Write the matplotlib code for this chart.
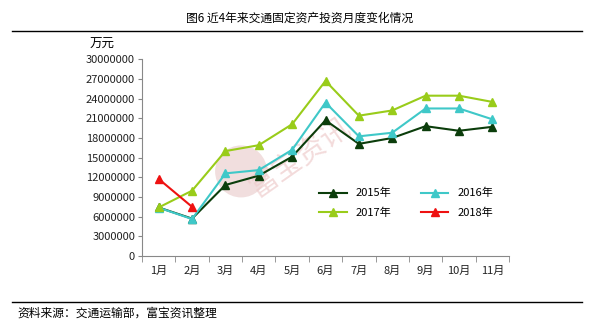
import matplotlib.pyplot as plt
import numpy as np
from matplotlib.lines import Line2D
from matplotlib.patches import Ellipse

plt.rcParams['font.family'] = ['Noto Sans CJK SC', 'DejaVu Sans']

# 月份与各年度数据(万元)
months = ['1月', '2月', '3月', '4月', '5月', '6月', '7月', '8月', '9月', '10月', '11月']
y2015 = [7400000, 5700000, 10830000, 12250000, 15150000, 20700000, 17100000, 18000000, 19800000, 19100000, 19700000]
y2016 = [7370000, 5640000, 12600000, 13100000, 16200000, 23400000, 18250000, 18800000, 22500000, 22500000, 20850000]
y2017 = [7400000, 9960000, 16000000, 16900000, 20100000, 26700000, 21400000, 22200000, 24450000, 24450000, 23500000]
y2018 = [11750000, 7500000]
series_names = ['2015年', '2016年', '2017年', '2018年']
colors = ['#0b3d0b', '#3fc8c8', '#99cc1a', '#ee1111']

fig = plt.figure(figsize=(5.94, 3.32), dpi=100)
W, H = 594, 332

# 标题与上下分隔线
fig.text(300 / W, 1 - 18 / H, '图6 近4年来交通固定资产投资月度变化情况', ha='center', va='center',
         fontsize=8.5, color='black')
fig.add_artist(Line2D([12 / W, 582 / W], [1 - 31 / H, 1 - 31 / H], color='black', lw=1))
fig.add_artist(Line2D([12 / W, 582 / W], [1 - 302 / H, 1 - 302 / H], color='black', lw=1))
fig.text(17 / W, 1 - 313 / H, '资料来源：交通运输部，富宝资讯整理', ha='left', va='center', fontsize=8.5)
fig.text(102 / W, 1 - 44 / H, '万元', ha='center', va='center', fontsize=9)

ax = fig.add_axes([142 / W, 1 - 256 / H, 367 / W, 196.7 / H])
x = np.arange(len(months))

data = [y2015, y2016, y2017, y2018]
lines = []
for vals, name, c in zip(data, series_names, colors):
    ln, = ax.plot(x[:len(vals)], vals, color=c, marker='^', markersize=6, lw=1.5, label=name, zorder=3)
    lines.append(ln)

ax.set_xlim(-0.5, len(months) - 0.5)
ax.set_ylim(0, 30000000)
ax.set_yticks(np.arange(0, 30000001, 3000000))
ax.set_yticklabels([str(v) for v in range(0, 30000001, 3000000)], fontsize=8, color='#222222')
ax.set_xticks(x)
ax.set_xticklabels(months, fontsize=8, color='#222222')
ax.set_xticks(np.arange(-0.5, len(months), 1), minor=True)
ax.tick_params(axis='x', which='major', length=0, pad=7)
ax.tick_params(axis='x', which='minor', length=4, color='#888888')
ax.tick_params(axis='y', length=3, color='#888888', pad=2)
for s in ['top', 'right']:
    ax.spines[s].set_visible(False)
for s in ['left', 'bottom']:
    ax.spines[s].set_color('#888888')

# 水印
ax.add_patch(Ellipse((0.27, 0.43), 52 / 367, 52 / 196.7, transform=ax.transAxes, color='#e8c8c8',
                     alpha=0.6, zorder=1, ec='none'))
ax.text(0.43, 0.5, '富宝资讯', transform=ax.transAxes, rotation=35, fontsize=21,
        color='#eecccc', alpha=0.7, ha='center', va='center', zorder=1)

handles = [lines[0], lines[2], lines[1], lines[3]]
ax.legend(handles, [h.get_label() for h in handles], ncol=2, loc='center', bbox_to_anchor=(0.72, 0.27),
          frameon=False, fontsize=8, columnspacing=2.6, handlelength=2.5, labelspacing=0.8)

fig.savefig('out.png', dpi=100)
